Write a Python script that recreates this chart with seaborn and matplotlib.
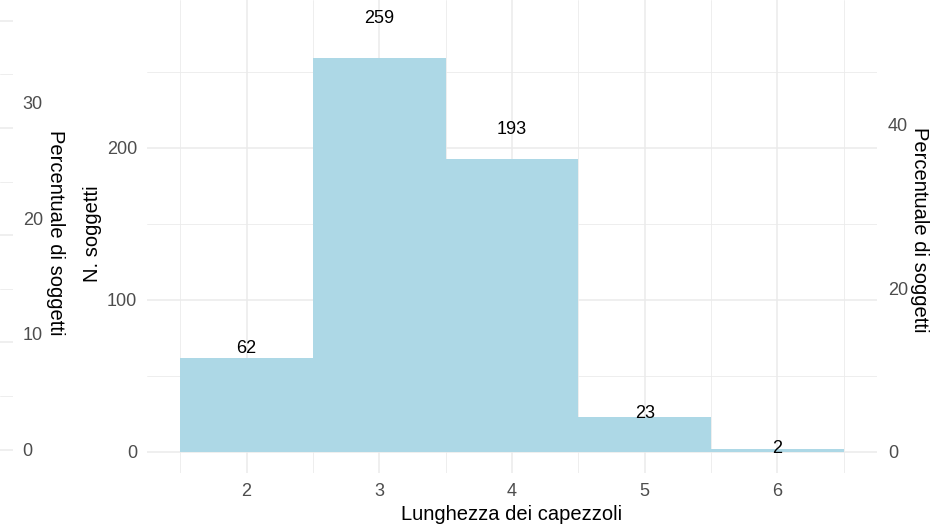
import matplotlib
matplotlib.use("Agg")
import matplotlib.pyplot as plt
import seaborn as sns
import pandas as pd
import numpy as np

# ---- data ----
lengths = [2, 3, 4, 5, 6]
counts = [62, 259, 193, 23, 2]
total = sum(counts)
x_ticks = [2, 3, 4, 5, 6]
count_ticks = [0, 100, 200]
pct_ticks_right = [0, 20, 40]
pct_ticks_left = [0, 10, 20, 30]
strip_grid_counts = [0, 25, 50, 75, 100, 125, 150, 175, 200]

xlabel = "Lunghezza dei capezzoli"
ylabel = "N. soggetti"
pct_label = "Percentuale di soggetti"

df = pd.DataFrame({"len": lengths, "n": counts})

sns.set_theme(style="whitegrid")
plt.rcParams["font.family"] = ["Liberation Sans", "DejaVu Sans"]

W, H = 941, 526
fig = plt.figure(figsize=(W / 100, H / 100), dpi=100)

grid_c = "#EBEBEB"
tick_c = "#4D4D4D"
TICK_FS = 13
TITLE_FS = 14.5

def px_rect(x0, y0, x1, y1):
    return [x0 / W, 1 - y1 / H, (x1 - x0) / W, (y1 - y0) / H]

# ---- left sliver (cut-off plot) ----
axs = fig.add_axes(px_rect(0, 0, 13, 473))
axs.set_facecolor("white")
for s in axs.spines.values():
    s.set_visible(False)
axs.set_xlim(0, 1)
ybot_s = -(473 - 449.5) / 2.144
ytop_s = 449.5 / 2.144
axs.set_ylim(ybot_s, ytop_s)
axs.set_xticks([])
axs.set_yticks(strip_grid_counts)
axs.set_yticklabels([])
axs.tick_params(axis="y", length=0)
axs.grid(False)
for g in strip_grid_counts:
    axs.axhline(g, color=grid_c, lw=1.1 if g % 50 == 0 else 0.6, zorder=0)
sec_s = axs.secondary_yaxis("right", functions=(lambda c: c / total * 100, lambda p: p * total / 100))
sec_s.set_yticks(pct_ticks_left)
sec_s.tick_params(length=0, pad=7, labelsize=TICK_FS, labelcolor=tick_c)
for s in sec_s.spines.values():
    s.set_visible(False)
fig.text(55 / W, 1 - 233 / H, pct_label, rotation=270, fontsize=TITLE_FS,
         color="black", ha="center", va="center")

# ---- main plot ----
ax = fig.add_axes(px_rect(147, 0, 877, 473))
ax.set_facecolor("white")
sns.histplot(data=df, x="len", weights="n", discrete=True, color="#ADD8E6",
             alpha=1, edgecolor="none", linewidth=0, ax=ax, zorder=2)
ax.set_xlim(1.25, 6.75)
ax.set_ylim(-21 / 1.52, 452 / 1.52)
ax.set_xticks(x_ticks)
ax.set_yticks(count_ticks)
ax.set_xticks(np.arange(1.5, 7.0, 1.0), minor=True)
ax.set_yticks([50, 150, 250], minor=True)
ax.grid(True, which="major", color=grid_c, lw=1.1, zorder=0)
ax.grid(True, which="minor", color=grid_c, lw=0.6, zorder=0)
ax.set_axisbelow(True)
for s in ax.spines.values():
    s.set_visible(False)
ax.tick_params(axis="both", which="both", length=0, labelsize=TICK_FS, labelcolor=tick_c)
ax.tick_params(axis="x", pad=7)
ax.tick_params(axis="y", pad=7)
ax.set_xlabel(xlabel, fontsize=TITLE_FS, color="black", labelpad=4)
ax.set_ylabel(ylabel, fontsize=TITLE_FS, color="black", ha="center", va="center")
ax.yaxis.set_label_coords((93 - 147) / 730, 0.5 + (236.5 - 234) / 473)

for xv, n in zip(lengths, counts):
    ax.text(xv, n * 1.1, str(n), ha="center", va="center", fontsize=TICK_FS, color="black", zorder=3)

sec = ax.secondary_yaxis("right", functions=(lambda c: c / total * 100, lambda p: p * total / 100))
sec.set_yticks(pct_ticks_right)
sec.tick_params(length=0, pad=8, labelsize=TICK_FS, labelcolor=tick_c)
for s in sec.spines.values():
    s.set_visible(False)
fig.text(920 / W, 1 - 230 / H, pct_label, rotation=270, fontsize=TITLE_FS,
         color="black", ha="center", va="center")

fig.savefig("out.png", dpi=100, facecolor="white")
